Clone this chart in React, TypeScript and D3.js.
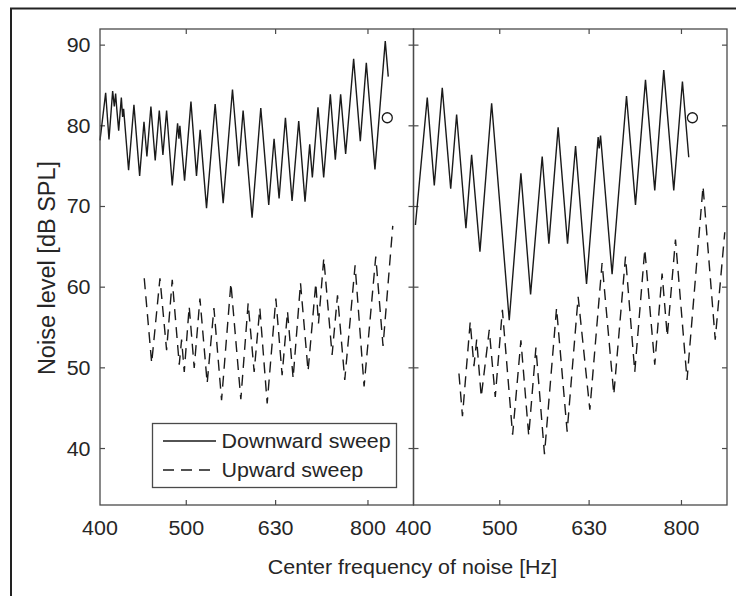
import React from "react";
import * as d3 from "d3";

// [center frequency (Hz), noise level (dB SPL)]
const leftDownward: [number, number][] = [
  [400, 78.2], [405.9, 84.1], [409.4, 78.3], [413.3, 84.3], [415.1, 82.4], [416.5, 84.0],
  [417.6, 82.3], [419.8, 79.4], [422.7, 83.5], [424.1, 81.1], [425.2, 82.1], [430.7, 74.5],
  [436.7, 82.6], [443.2, 73.8], [448.2, 80.5], [451.6, 76.2], [456.3, 82.4], [461.4, 75.7],
  [466.3, 81.9], [470.7, 76.4], [475.2, 81.9], [482.2, 72.6], [488.9, 80.3], [490.6, 78.4],
  [491.8, 80.0], [497.8, 73.2], [506.1, 83.0], [513.4, 73.8], [518.3, 79.5], [526.9, 69.8],
  [538.8, 82.7], [550.1, 70.4], [563.5, 84.5], [572.8, 75.0], [579.2, 81.9], [592.8, 68.6],
  [606.3, 82.2], [618.9, 70.2], [627.5, 78.4], [635.7, 71.0], [646.2, 81.0], [657.4, 70.7],
  [668.8, 80.6], [679.8, 70.6], [688.1, 77.7], [692.8, 73.6], [703.0, 82.3], [713.4, 73.6],
  [725.8, 83.9], [735.2, 75.8], [745.4, 83.9], [755.1, 76.5], [770.9, 88.3], [784.3, 78.1],
  [796.6, 87.8], [814.6, 74.6], [836.6, 90.5], [843.1, 86.1],
];

const leftUpward: [number, number][] = [
  [448.5, 61.1], [457.2, 50.6], [467.1, 61.1], [475.2, 52.2], [482.2, 60.9], [491.0, 50.4],
  [494.0, 53.5], [497.4, 49.5], [503.8, 57.6], [510.4, 50.0], [518.0, 58.6], [527.8, 48.1],
  [537.1, 57.4], [547.8, 46.0], [561.2, 60.5], [575.8, 46.1], [586.8, 58.0], [596.0, 49.5],
  [604.8, 57.4], [616.4, 45.6], [630.4, 58.6], [640.7, 49.1], [649.7, 57.0], [659.2, 48.7],
  [671.9, 60.5], [685.2, 49.6], [699.0, 60.5], [703.9, 55.5], [713.6, 63.6], [729.1, 51.6],
  [739.4, 59.0], [753.4, 48.5], [773.8, 62.7], [792.0, 47.7], [816.3, 63.8], [831.8, 52.7],
  [853.0, 67.6],
];

const rightDownward: [number, number][] = [
  [402, 67.7], [414.5, 83.5], [422.1, 72.6], [430.9, 84.7], [440.4, 72.2], [447.2, 81.4],
  [458.1, 67.3], [464.9, 76.4], [475.0, 64.4], [489.6, 82.8], [512.4, 55.9], [528.1, 74.1],
  [541.5, 59.1], [558.0, 76.2], [567.7, 65.4], [581.5, 79.8], [595.8, 65.4], [608.3, 77.5],
  [625.8, 60.4], [644.9, 78.6], [646.6, 77.2], [648.9, 78.8], [668.6, 61.6], [694.0, 83.7],
  [710.3, 70.2], [728.9, 85.7], [746.6, 72.0], [764.2, 86.9], [784.2, 72.0], [802.0, 85.5],
  [815.2, 76.1],
];

const rightUpward: [number, number][] = [
  [449.9, 49.3], [454.0, 44.0], [463.2, 55.7], [467.7, 50.2], [471.0, 53.5], [476.6, 46.4],
  [486.6, 54.7], [494.2, 46.4], [503.4, 57.2], [516.9, 41.7], [528.1, 53.4], [538.9, 41.6],
  [549.0, 52.5], [561.3, 39.3], [579.1, 57.4], [595.2, 42.1], [612.4, 58.8], [631.2, 44.8],
  [651.5, 63.0], [671.6, 46.7], [692.2, 63.8], [709.0, 49.5], [727.6, 64.7], [746.6, 50.4],
  [760.9, 61.7], [771.2, 53.9], [787.7, 65.9], [811.6, 48.5], [845.9, 72.5], [873.0, 53.5],
  [894.8, 66.8],
];

// single open-circle markers
const leftMarker: [number, number] = [841, 81.0];
const rightMarker: [number, number] = [823, 81.0];

const yTicks = [40, 50, 60, 70, 80, 90];
const xTicks = [400, 500, 630, 800];
const legendLabels = ["Downward sweep", "Upward sweep"];

const W = 736;
const H = 596;
const top = 29;
const bottom = 505;
const panels = [
  { x0: 100, x1: 413.5, down: leftDownward, up: leftUpward, marker: leftMarker },
  { x0: 413.5, x1: 727, down: rightDownward, up: rightUpward, marker: rightMarker },
];

const axisColor = "#4a4a4a";
const textColor = "#262626";
const font = "Arial, 'Liberation Sans', Helvetica, sans-serif";
const dash = "11,7";

const y = d3.scaleLinear().domain([33, 92]).range([bottom, top]);

const Txt = ({ x, y, anchor = "middle", size = 19.5, children }: any) => (
  <text
    transform={`translate(${x},${y}) scale(1.1,1)`}
    textAnchor={anchor}
    fontSize={size}
    fontFamily={font}
    fill={textColor}
  >
    {children}
  </text>
);

export default function App() {
  return (
    <svg
      width={W}
      height={H}
      viewBox={`0 0 ${W} ${H}`}
      style={{ position: "absolute", left: 0, top: 0, background: "white" }}
    >
      {/* outer frame */}
      <rect x={11} y={8.5} width={740} height={600} fill="none" stroke="#222" strokeWidth={2} />

      {panels.map((p, i) => {
        const x = d3.scaleLog().domain([400, 900]).range([p.x0, p.x1]);
        const line = d3
          .line<[number, number]>()
          .x((d) => x(d[0]))
          .y((d) => y(d[1]));
        return (
          <g key={i}>
            {/* ticks */}
            {yTicks.map((t) => (
              <g key={t} stroke={axisColor} strokeWidth={1.2}>
                <line x1={p.x0} x2={p.x0 + 5} y1={y(t)} y2={y(t)} />
                <line x1={p.x1} x2={p.x1 - 5} y1={y(t)} y2={y(t)} />
              </g>
            ))}
            {xTicks.slice(1).map((t) => (
              <g key={t} stroke={axisColor} strokeWidth={1.2}>
                <line x1={x(t)} x2={x(t)} y1={bottom} y2={bottom - 5} />
                <line x1={x(t)} x2={x(t)} y1={top} y2={top + 5} />
              </g>
            ))}
            {xTicks.map((t) => (
              <Txt key={t} x={x(t)} y={535}>
                {t}
              </Txt>
            ))}

            <path d={line(p.down) || ""} fill="none" stroke="#1a1a1a" strokeWidth={1.4} strokeLinejoin="miter" />
            <path d={line(p.up) || ""} fill="none" stroke="#1a1a1a" strokeWidth={1.4} strokeDasharray={dash} />
            <circle cx={x(p.marker[0])} cy={y(p.marker[1])} r={5} fill="none" stroke="#1a1a1a" strokeWidth={1.3} />

            <rect x={p.x0} y={top} width={p.x1 - p.x0} height={bottom - top} fill="none" stroke={axisColor} strokeWidth={1.3} />
          </g>
        );
      })}

      {yTicks.map((t) => (
        <Txt key={t} x={90.5} y={y(t) + 7} anchor="end">
          {t}
        </Txt>
      ))}

      {/* legend */}
      <rect x={152.5} y={423.5} width={244} height={64} fill="white" stroke={axisColor} strokeWidth={1.3} />
      <line x1={163} x2={216} y1={441} y2={441} stroke="#1a1a1a" strokeWidth={1.4} />
      <line x1={163} x2={216} y1={470} y2={470} stroke="#1a1a1a" strokeWidth={1.4} strokeDasharray={dash} />
      {legendLabels.map((l, i) => (
        <Txt key={l} x={221.5} y={448 + i * 29} anchor="start">
          {l}
        </Txt>
      ))}

      <Txt x={412.5} y={574} size={19.5}>
        Center frequency of noise [Hz]
      </Txt>
      <text
        transform="translate(55,268) rotate(-90)"
        textAnchor="middle"
        fontSize={23.5}
        fontFamily={font}
        fill={textColor}
      >
        Noise level [dB SPL]
      </text>
    </svg>
  );
}
